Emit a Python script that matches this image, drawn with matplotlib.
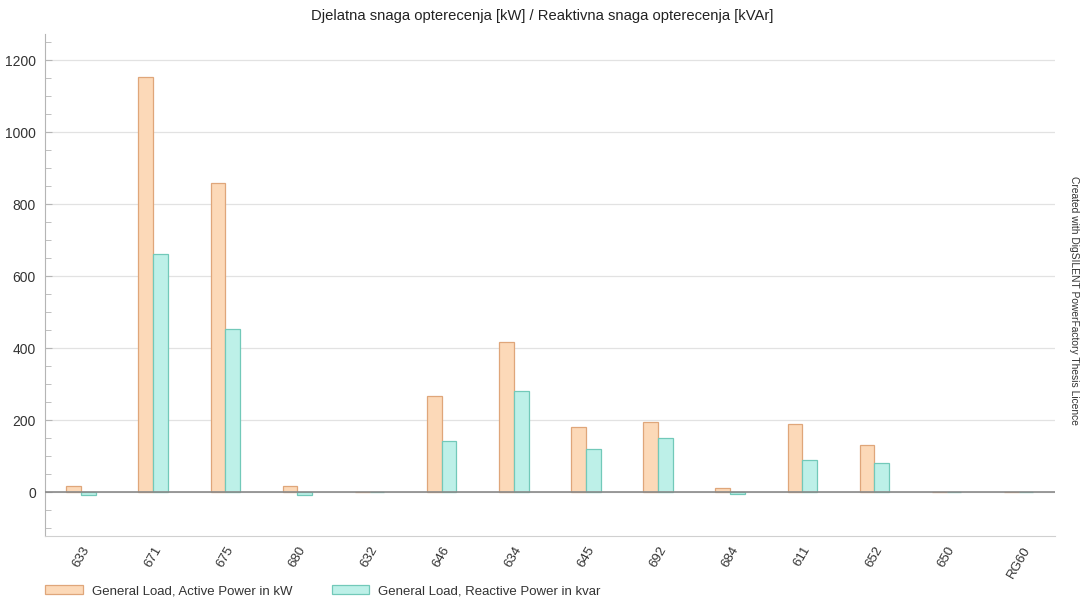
import numpy as np
import matplotlib.pyplot as plt
from matplotlib.ticker import MultipleLocator

plt.rcParams['font.family'] = ['Liberation Sans', 'DejaVu Sans']

# loads per node
nodes = ['633', '671', '675', '680', '632', '646', '634', '645', '692',
         '684', '611', '652', '650', 'RG60']
active_kw = [18, 1155, 859, 17, 0, 268, 417, 182, 196, 12, 190, 132, 0, 0]
reactive_kvar = [-8, 661, 455, -7, 0, 142, 283, 121, 152, -5, 90, 82, 0, 0]

x = np.arange(len(nodes))
w = 0.205

fig = plt.figure(figsize=(10.84, 6.0), dpi=100)
ax = fig.add_axes([0.0415, 0.1067, 0.9315, 0.8366])

ax.bar(x - w/2, active_kw, w, color='#fcd9b8', edgecolor='#dfa67a',
       linewidth=0.9, label='General Load, Active Power in kW', zorder=3)
ax.bar(x + w/2, reactive_kvar, w, color='#bdf0e8', edgecolor='#72c9b9',
       linewidth=0.9, label='General Load, Reactive Power in kvar', zorder=3)

ax.axhline(0, color='#8a8a8a', lw=1.2, zorder=4)

ax.set_xlim(-0.5, len(nodes) - 0.5)
ax.set_ylim(-121, 1273)
ax.yaxis.set_major_locator(MultipleLocator(200))
ax.yaxis.set_minor_locator(MultipleLocator(50))
ax.grid(axis='y', which='major', color='#e2e2e2', lw=0.9, zorder=0)

for s in ['top', 'right']:
    ax.spines[s].set_visible(False)
ax.spines['left'].set_color('#b5b5b5')
ax.spines['bottom'].set_color('#d0d0d0')

ax.tick_params(axis='y', which='both', direction='in', color='#b5b5b5',
               labelsize=10, labelcolor='#333333', pad=6.5)
ax.tick_params(axis='y', which='major', length=5)
ax.tick_params(axis='y', which='minor', length=4)
ax.tick_params(axis='x', length=0, pad=6)
ax.set_xticks(x)
ax.set_xticklabels(nodes, rotation=60, ha='center', va='top',
                   fontsize=9.5, color='#333333')

fig.text(0.5, 0.973, 'Djelatna snaga opterecenja [kW] / Reaktivna snaga opterecenja [kVAr]',
         ha='center', va='center', fontsize=10.6, color='#222222')
fig.text(0.991, 0.5, 'Created with DigSILENT PowerFactory Thesis Licence',
         rotation=-90, ha='center', va='center', fontsize=7.4, color='#333333')

fig.legend(loc='center left', bbox_to_anchor=(0.031, 0.015), ncol=2,
           frameon=False, fontsize=9.5, handlelength=2.85, handleheight=0.75,
           columnspacing=3.0, handletextpad=0.65, labelcolor='#333333')

fig.savefig('out.png', dpi=100)
